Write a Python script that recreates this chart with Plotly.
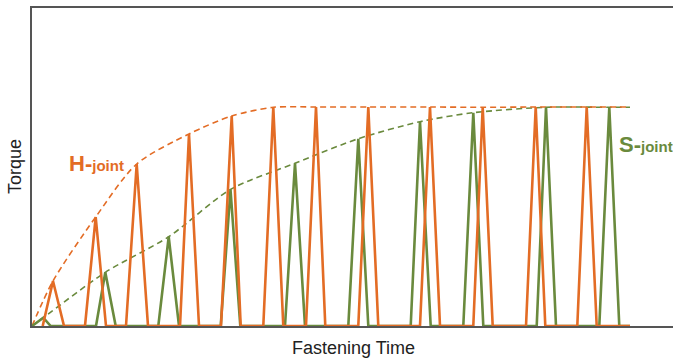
import plotly.graph_objects as go

# time units: 0 = left axis; torque units: 0 = baseline
H_RISE = [10.7, 53, 94, 148, 189, 231.3, 274, 326.3, 388, 441.3, 494, 545.3]
H_PEAK_T = [21, 63.7, 104.7, 157, 199.7, 241.3, 284, 336.3, 398, 450.7, 503.7, 554.7]
H_PEAK_Q = [45, 109, 162, 192, 210, 218.7, 219, 219, 219, 218.7, 219, 219]
H_FALL = [32, 74, 116, 167, 208.7, 251.3, 293.3, 346.3, 408, 460.7, 513.3, 564.7]

S_RISE = [0, 64, 126.3, 188.7, 253, 316.3, 378.7, 431.3, 504.7, 567.3]
S_PEAK_T = [11.3, 73.3, 136.7, 198.5, 263, 326.3, 388, 441.3, 514, 577.3]
S_PEAK_Q = [8.3, 53.7, 89.3, 136.5, 162.7, 187.3, 204.3, 213.3, 218.7, 218.7]
S_FALL = [18.7, 83.7, 147, 208.3, 273, 336.3, 398.7, 451.3, 524, 587.3]

T_END = 598

ORANGE = "#E36C25"
GREEN = "#6A8A3D"
AXIS = "#555555"
FONT = "Liberation Sans, Arial, sans-serif"

FIG_W, FIG_H = 673, 358
PLOT_L, PLOT_T, PLOT_B = 32, 8, 326
PLOT_W = FIG_W - PLOT_L
PLOT_H = PLOT_B - PLOT_T


def pulses(rise, pt, pq, fall, end):
    xs, ys = [], []
    for r, t, q, f in zip(rise, pt, pq, fall):
        xs += [r, t, f]
        ys += [0, q, 0]
    xs.append(end)
    ys.append(0)
    return xs, ys


def paper(px, py):
    # figure pixel -> paper coords
    return (px - PLOT_L) / PLOT_W, (PLOT_B - py) / PLOT_H


fig = go.Figure()

# envelopes through the peak tops
fig.add_trace(go.Scatter(
    x=[0] + S_PEAK_T + [T_END], y=[0] + S_PEAK_Q + [S_PEAK_Q[-1]],
    mode="lines", line=dict(color=GREEN, width=1.6, dash="6px,4px", shape="spline", smoothing=0.8),
    hoverinfo="skip"))
fig.add_trace(go.Scatter(
    x=[0] + H_PEAK_T + [T_END], y=[0] + H_PEAK_Q + [H_PEAK_Q[-1]],
    mode="lines", line=dict(color=ORANGE, width=1.6, dash="6px,4px", shape="spline", smoothing=0.8),
    hoverinfo="skip"))

sx, sy = pulses(S_RISE, S_PEAK_T, S_PEAK_Q, S_FALL, T_END)
fig.add_trace(go.Scatter(x=sx, y=sy, mode="lines", line=dict(color=GREEN, width=2.6), hoverinfo="skip"))
hx, hy = pulses(H_RISE, H_PEAK_T, H_PEAK_Q, H_FALL, T_END)
fig.add_trace(go.Scatter(x=hx, y=hy, mode="lines", line=dict(color=ORANGE, width=2.6), hoverinfo="skip"))

fig.add_annotation(x=35, y=163, xref="x", yref="y", xanchor="left", yanchor="middle", showarrow=False,
                   text="<b>H-<span style='font-size:15px'>joint</span></b>",
                   font=dict(family=FONT, size=22, color=ORANGE))
fig.add_annotation(x=585, y=182, xref="x", yref="y", xanchor="left", yanchor="middle", showarrow=False,
                   text="<b>S-<span style='font-size:15px'>joint</span></b>",
                   font=dict(family=FONT, size=22, color=GREEN))

xt, yt = paper(354, 348)
fig.add_annotation(x=xt, y=yt, xref="paper", yref="paper", xanchor="center", yanchor="middle",
                   showarrow=False, text="Fastening Time", font=dict(family=FONT, size=18, color="#222"))
xt, yt = paper(15, 167)
fig.add_annotation(x=xt, y=yt, xref="paper", yref="paper", xanchor="center", yanchor="middle",
                   showarrow=False, textangle=-90, text="Torque",
                   font=dict(family=FONT, size=18, color="#222"))

fig.update_layout(
    width=FIG_W, height=FIG_H,
    margin=dict(l=PLOT_L, r=0, t=PLOT_T, b=FIG_H - PLOT_B),
    plot_bgcolor="white", paper_bgcolor="white",
    showlegend=False,
    xaxis=dict(range=[0, 641], showline=True, linecolor=AXIS, linewidth=1.5, mirror=True,
               showgrid=False, zeroline=False, showticklabels=False, ticks=""),
    yaxis=dict(range=[0, 318], showline=True, linecolor=AXIS, linewidth=1.5,
               showgrid=False, zeroline=False, showticklabels=False, ticks=""),
)

# drop the browser's default 8px body margin so the figure fills the window
fig.write_html("out.html", config={"displayModeBar": False},
               post_script="document.body.style.margin = '0';")
